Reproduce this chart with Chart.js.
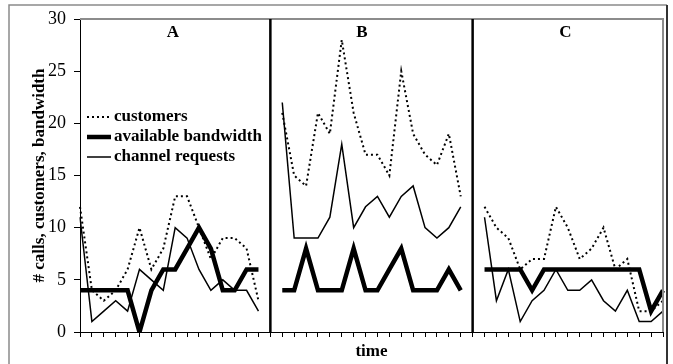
<!DOCTYPE html>
<html>
<head>
<meta charset="utf-8">
<script src="https://cdn.jsdelivr.net/npm/chart.js@4.4.1/dist/chart.umd.min.js"></script>
<style>
  body { margin: 0; background: #fff; }
  canvas { display: block; }
</style>
</head>
<body>
<canvas id="chart" width="673" height="364"></canvas>
<script>
// time slots; 17 and 34 are the panel separators (no data)
const timeSlots = [1,2,3,4,5,6,7,8,9,10,11,12,13,14,15,16,17,18,19,20,21,22,23,24,25,
                   26,27,28,29,30,31,32,33,34,35,36,37,38,39,40,41,42,43,44,45,46,47,48,49,50];
const separatorSlots = [16, 33];
const panelLabels = ["A", "B", "C"];
const yTicks = [0, 5, 10, 15, 20, 25, 30];

const customers = [12,4,3,4,6,10,6,8,13,13,10,7,9,9,8,3, null,
                   21,15,14,21,19,28,21,17,17,15,25,19,17,16,19,13, null,
                   12,10,9,6,7,7,12,10,7,8,10,6,7,2,2,3];
const bandwidth = [4,4,4,4,4,0,4,6,6,8,10,8,4,4,6,6, null,
                   4,4,8,4,4,4,8,4,4,6,8,4,4,4,6,4, null,
                   6,6,6,6,4,6,6,6,6,6,6,6,6,6,2,4];
const requests  = [11,1,2,3,2,6,5,4,10,9,6,4,5,4,4,2, null,
                   22,9,9,9,11,18,10,12,13,11,13,14,10,9,10,12, null,
                   11,3,6,1,3,4,6,4,4,5,3,2,4,1,1,2];

const serif = "'Liberation Serif', 'Times New Roman', serif";

// frame, panel separators, panel titles, legend and axis titles
const decor = {
  id: "decor",
  beforeDraw(chart) {
    const c = chart.ctx;
    c.save();
    c.fillStyle = "#fff";
    c.fillRect(0, 0, chart.width, chart.height);
    c.strokeStyle = "#8a8a8a";
    c.lineWidth = 1.5;
    c.beginPath();
    c.moveTo(9, chart.height);
    c.lineTo(9, 5);
    c.lineTo(667, 5);
    c.stroke();
    c.strokeStyle = "#333";
    c.lineWidth = 2;
    c.beginPath();
    c.moveTo(667, 5);
    c.lineTo(667, chart.height);
    c.stroke();
    c.restore();
  },
  afterDatasetsDraw(chart) {
    const c = chart.ctx;
    const a = chart.chartArea;
    const x = chart.scales.x;
    c.save();

    // plot area border (top, right)
    c.strokeStyle = "#8c8c8c";
    c.lineWidth = 2;
    c.beginPath();
    c.moveTo(a.left, a.top);
    c.lineTo(a.right, a.top);
    c.lineTo(a.right, a.bottom);
    c.stroke();

    // separators
    c.strokeStyle = "#000";
    c.lineWidth = 2.5;
    separatorSlots.forEach(s => {
      const px = x.getPixelForTick(s);
      c.beginPath();
      c.moveTo(px, a.top);
      c.lineTo(px, a.bottom);
      c.stroke();
    });

    // panel titles
    c.fillStyle = "#000";
    c.font = "bold 17px " + serif;
    c.textAlign = "center";
    c.textBaseline = "middle";
    const centers = [7.8, 23.7, 40.8];
    panelLabels.forEach((t, i) => {
      const left = x.getPixelForTick(Math.floor(centers[i]));
      const right = x.getPixelForTick(Math.ceil(centers[i]));
      const px = left + (right - left) * (centers[i] % 1);
      c.fillText(t, px, a.top + 14);
    });

    // legend
    c.textAlign = "left";
    chart.data.datasets.forEach((ds, i) => {
      const y = a.top + 98 + i * 20;
      c.strokeStyle = "#000";
      c.lineWidth = ds.borderWidth;
      c.setLineDash(ds.borderDash || []);
      c.beginPath();
      c.moveTo(a.left + 7, y);
      c.lineTo(a.left + 31, y);
      c.stroke();
      c.setLineDash([]);
      c.fillText(ds.label, a.left + 34, y);
    });

    // axis titles
    c.textAlign = "center";
    c.fillText("time", (a.left + a.right) / 2, 352);
    c.translate(40, (a.top + a.bottom) / 2);
    c.rotate(-Math.PI / 2);
    c.fillText("# calls, customers, bandwidth", 0, 0);
    c.restore();
  }
};

new Chart(document.getElementById("chart"), {
  type: "line",
  data: {
    labels: timeSlots,
    datasets: [
      { label: "customers", data: customers, borderColor: "#000", borderWidth: 2, borderDash: [2, 3] },
      { label: "available bandwidth", data: bandwidth, borderColor: "#000", borderWidth: 4.5 },
      { label: "channel requests", data: requests, borderColor: "#000", borderWidth: 1.5 }
    ]
  },
  options: {
    responsive: false,
    animation: false,
    spanGaps: false,
    layout: { padding: { top: 19, right: 10, left: 0, bottom: 0 } },
    elements: {
      point: { radius: 0 },
      line: { tension: 0, fill: false, borderCapStyle: "butt", borderJoinStyle: "miter" }
    },
    plugins: { legend: { display: false }, tooltip: { enabled: false } },
    scales: {
      x: {
        type: "category",
        offset: false,
        afterFit: s => { s.height = 32; },
        ticks: { display: false, autoSkip: false },
        grid: { display: true, drawOnChartArea: false, drawTicks: true, tickLength: 5, color: "#000" },
        border: { display: true, color: "#000", width: 1 }
      },
      y: {
        min: 0,
        max: 30,
        afterFit: s => { s.width = 80; },
        afterBuildTicks: s => { s.ticks = yTicks.map(v => ({ value: v })); },
        ticks: { color: "#000", padding: 8, font: { family: serif, size: 18 } },
        grid: { display: true, drawOnChartArea: false, drawTicks: true, tickLength: 6, color: "#000" },
        border: { display: true, color: "#000", width: 1 }
      }
    }
  },
  plugins: [decor]
});
</script>
</body>
</html>
